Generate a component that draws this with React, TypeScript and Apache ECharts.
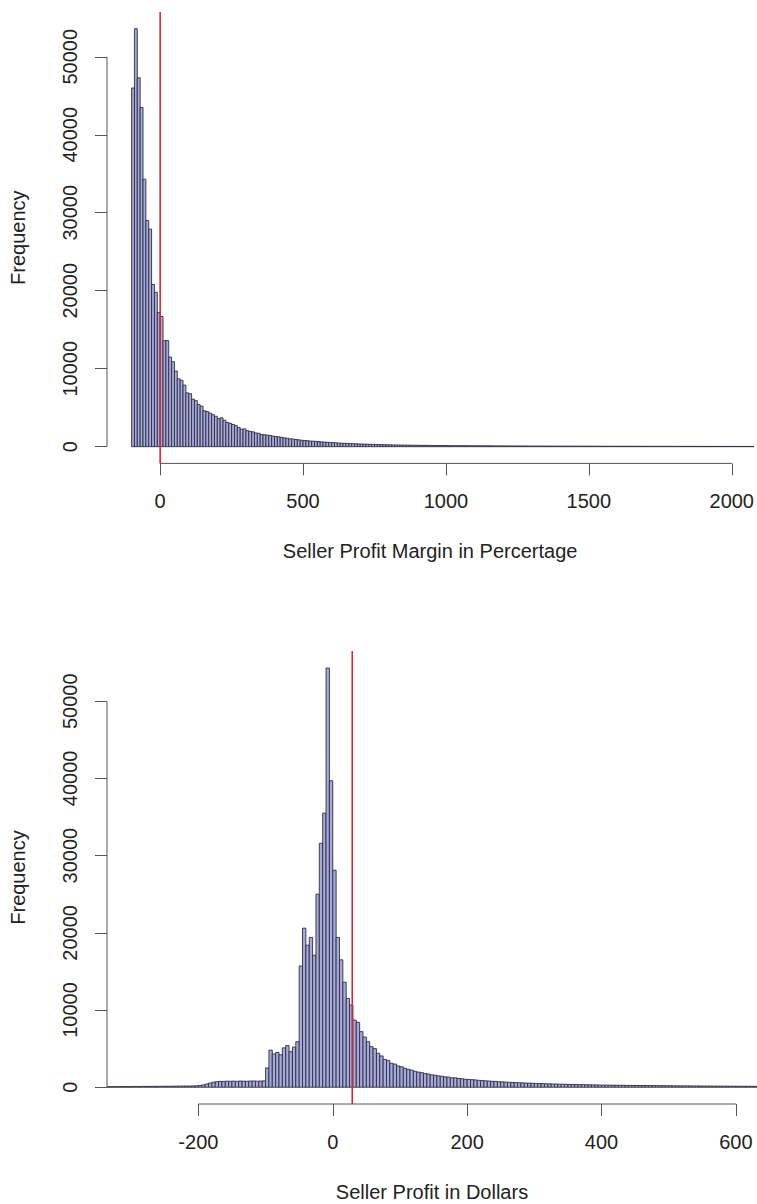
import React, { useEffect, useRef } from "react";
import * as echarts from "echarts";

// Histogram 1: seller profit margin (%), bins of 10 starting at -100
const marginBinStart = -100;
const marginBinWidth = 10;
const marginCounts = [
  46000, 53600, 47300, 43500, 34300, 29000, 27900, 20800, 19800, 17200, 16700, 13600,
  13600, 11500, 10900, 9700, 8700, 8500, 7900, 6900, 6800, 6100, 5900, 5400, 5200, 4600,
  4500, 4300, 4100, 3900, 3600, 3700, 3400, 3100, 3000, 2850,
  2700, 2450, 2250, 2280, 2050, 1960, 1900, 1760, 1720, 1560, 1530, 1490, 1440, 1350,
  1300, 1260, 1190, 1130, 1080, 1010, 990, 920, 880, 830, 790, 770, 720, 705, 680,
  650, 615, 600, 560, 545, 520, 495, 470, 455, 430, 415, 400, 385, 362, 352,
  340, 322, 312, 300, 292, 280, 272, 262, 252, 242, 236, 226, 221, 212, 206,
  200, 196, 190, 186, 181, 176, 171, 168, 165, 161,
  158, 150, 152, 145, 140, 142, 135, 130, 133, 128, 124, 126, 120, 118, 121,
  115, 112, 114, 110, 106, 108, 104, 101, 103, 99, 96, 98, 95, 92, 94,
  90, 88, 91, 86, 84, 86, 82, 80, 83, 79, 77, 79, 75, 74, 76,
  72, 71, 73, 69, 68, 70, 66, 65, 67, 63, 62, 64, 61, 60, 62,
  58, 57, 59, 56, 55, 57, 54, 53, 55, 52, 51, 53, 50, 49, 51,
  48, 47, 49, 46, 45, 47, 44, 44, 46, 43, 42, 44, 41, 41, 43,
  40, 39, 41, 38, 38, 40, 37, 36, 38, 35, 35, 37, 34, 34, 36,
  33, 33, 35, 32, 32, 34, 31, 31,
];

// Histogram 2: seller profit ($), bins of 5 starting at -340
const dollarBinStart = -340;
const dollarBinWidth = 5;
const dollarCounts = [
  60, 72, 66, 80, 74, 86, 92, 81, 96, 102, 91, 106, 112, 101, 116, 122, 111, 126, 132, 121,
  140, 136, 150, 146, 160, 156, 172, 180,
  225, 300, 420, 540, 650, 720,
  760, 750, 785, 770, 790, 760, 805, 780, 770, 795, 810, 780, 800, 825,
  2500, 4800, 4300, 4500, 4200, 5100, 5400, 4600, 5200, 5900,
  15700, 20600, 18400, 19400, 17100, 25000, 31600, 35500,
  54300, 39700,
  28100, 19400, 16500, 13600, 11500, 10650, 8700, 8400, 7200, 6500, 5900, 5250, 5000, 4400,
  4050, 3600, 3450, 3100, 3000, 2750, 2650, 2450,
  2320, 2210, 2060, 1960, 1890, 1770, 1710, 1610, 1550, 1470,
  1430, 1340, 1310, 1230, 1210, 1140, 1100, 1030, 1010, 975,
  945, 895, 870, 825, 805, 765, 755, 715, 695, 665,
  648, 615, 605, 575, 565, 540, 530, 505, 498, 476,
  465, 442, 436, 418, 412, 396, 388, 372, 368, 350,
  348, 336, 333, 318, 314, 300, 298, 284, 282, 272,
  270, 260, 259, 250, 248, 238, 237, 228, 226, 218,
  220, 212, 214, 205, 206, 196, 198, 188, 190, 180,
  182, 174, 176, 168, 170, 162, 163, 156, 158, 150,
  152, 145, 146, 140, 141, 134, 136, 130, 131, 125,
  126, 120, 121, 116, 114,
];

const marginTicks = [0, 500, 1000, 1500, 2000];
const dollarTicks = [-200, 0, 200, 400, 600];
const frequencyTicks = [0, 10000, 20000, 30000, 40000, 50000];
const marginReference = 0;
const dollarReference = 29;

const marginTitle = "Seller Profit Margin in Percertage";
const dollarTitle = "Seller Profit in Dollars";
const yTitle = "Frequency";

// plot-region extents (R-style padding around the data)
const marginX: [number, number] = [-186, 2075];
const marginY: [number, number] = [-2144, 55744];
const dollarX: [number, number] = [-336, 631.4];
const dollarY: [number, number] = [-2173, 56503];

const FONT = "'Liberation Sans', Arial, Helvetica, sans-serif";
const TEXT = "#222";
const AXIS = "#555";
const BAR_FILL = "#a7aadc";
const BAR_EDGE = "#2e2e3e";
const REF = "#d22b2b";

function toBins(start: number, width: number, counts: number[]) {
  return counts.map((c, i) => [start + i * width, start + (i + 1) * width, c]);
}

const renderBar = (_params: any, api: any) => {
  const a = api.coord([api.value(0), api.value(2)]);
  const b = api.coord([api.value(1), 0]);
  return {
    type: "rect",
    shape: { x: a[0], y: a[1], width: b[0] - a[0], height: b[1] - a[1] },
    style: { fill: BAR_FILL, stroke: BAR_EDGE, lineWidth: 0.9 },
  };
};

function xAxisFor(grid: number, ext: [number, number], ticks: number[], name: string) {
  return {
    type: "value",
    gridIndex: grid,
    min: ext[0],
    max: ext[1],
    axisLine: { show: false, onZero: false },
    splitLine: { show: false },
    axisTick: { show: true, length: 12, customValues: ticks, lineStyle: { color: AXIS, width: 1 } },
    axisLabel: {
      customValues: ticks,
      margin: 28,
      fontSize: 20,
      fontFamily: FONT,
      color: TEXT,
      formatter: (v: number) => String(v),
    },
    name,
    nameLocation: "middle",
    nameGap: 78,
    nameTextStyle: { fontSize: 20, fontFamily: FONT, color: TEXT },
  };
}

function yAxisFor(grid: number, ext: [number, number]) {
  return {
    type: "value",
    gridIndex: grid,
    min: ext[0],
    max: ext[1],
    axisLine: { show: false, onZero: false },
    splitLine: { show: false },
    axisTick: { show: true, length: 12, customValues: frequencyTicks, lineStyle: { color: AXIS, width: 1 } },
    axisLabel: {
      customValues: frequencyTicks,
      rotate: 90,
      margin: 27,
      fontSize: 20,
      fontFamily: FONT,
      color: TEXT,
      formatter: (v: number) => String(v),
    },
    name: yTitle,
    nameLocation: "middle",
    nameRotate: 90,
    nameGap: 79,
    nameTextStyle: { fontSize: 20, fontFamily: FONT, color: TEXT },
  };
}

function segment(grid: number, pts: number[][], color: string, width: number) {
  return {
    type: "line",
    xAxisIndex: grid,
    yAxisIndex: grid,
    data: pts,
    symbol: "none",
    silent: true,
    clip: false,
    z: 5,
    lineStyle: { color, width },
  };
}

export default function App() {
  const ref = useRef<HTMLDivElement>(null);

  useEffect(() => {
    if (!ref.current) return;
    const chart = echarts.init(ref.current, undefined, { renderer: "svg" });
    chart.setOption({
      animation: false,
      backgroundColor: "#ffffff",
      grid: [
        { left: 107, top: 12, width: 650, height: 451.4 },
        { left: 107, top: 651, width: 650, height: 453 },
      ],
      xAxis: [
        xAxisFor(0, marginX, marginTicks, marginTitle),
        xAxisFor(1, dollarX, dollarTicks, dollarTitle),
      ],
      yAxis: [yAxisFor(0, marginY), yAxisFor(1, dollarY)],
      series: [
        {
          type: "custom",
          xAxisIndex: 0,
          yAxisIndex: 0,
          clip: true,
          renderItem: renderBar,
          encode: { x: [0, 1], y: 2 },
          data: toBins(marginBinStart, marginBinWidth, marginCounts),
        },
        {
          type: "custom",
          xAxisIndex: 1,
          yAxisIndex: 1,
          clip: true,
          renderItem: renderBar,
          encode: { x: [0, 1], y: 2 },
          data: toBins(dollarBinStart, dollarBinWidth, dollarCounts),
        },
        // axis lines spanning first to last tick
        segment(0, [[marginTicks[0], marginY[0]], [marginTicks[marginTicks.length - 1], marginY[0]]], AXIS, 1),
        segment(0, [[marginX[0], frequencyTicks[0]], [marginX[0], frequencyTicks[frequencyTicks.length - 1]]], AXIS, 1),
        segment(1, [[dollarTicks[0], dollarY[0]], [dollarTicks[dollarTicks.length - 1], dollarY[0]]], AXIS, 1),
        segment(1, [[dollarX[0], frequencyTicks[0]], [dollarX[0], frequencyTicks[frequencyTicks.length - 1]]], AXIS, 1),
        // reference lines
        segment(0, [[marginReference, marginY[0]], [marginReference, marginY[1]]], REF, 1.6),
        segment(1, [[dollarReference, dollarY[0]], [dollarReference, dollarY[1]]], REF, 1.6),
      ],
    });
    return () => chart.dispose();
  }, []);

  return (
    <div
      ref={ref}
      style={{ position: "absolute", left: 0, top: 0, width: 757, height: 1204, background: "#fff" }}
    />
  );
}
